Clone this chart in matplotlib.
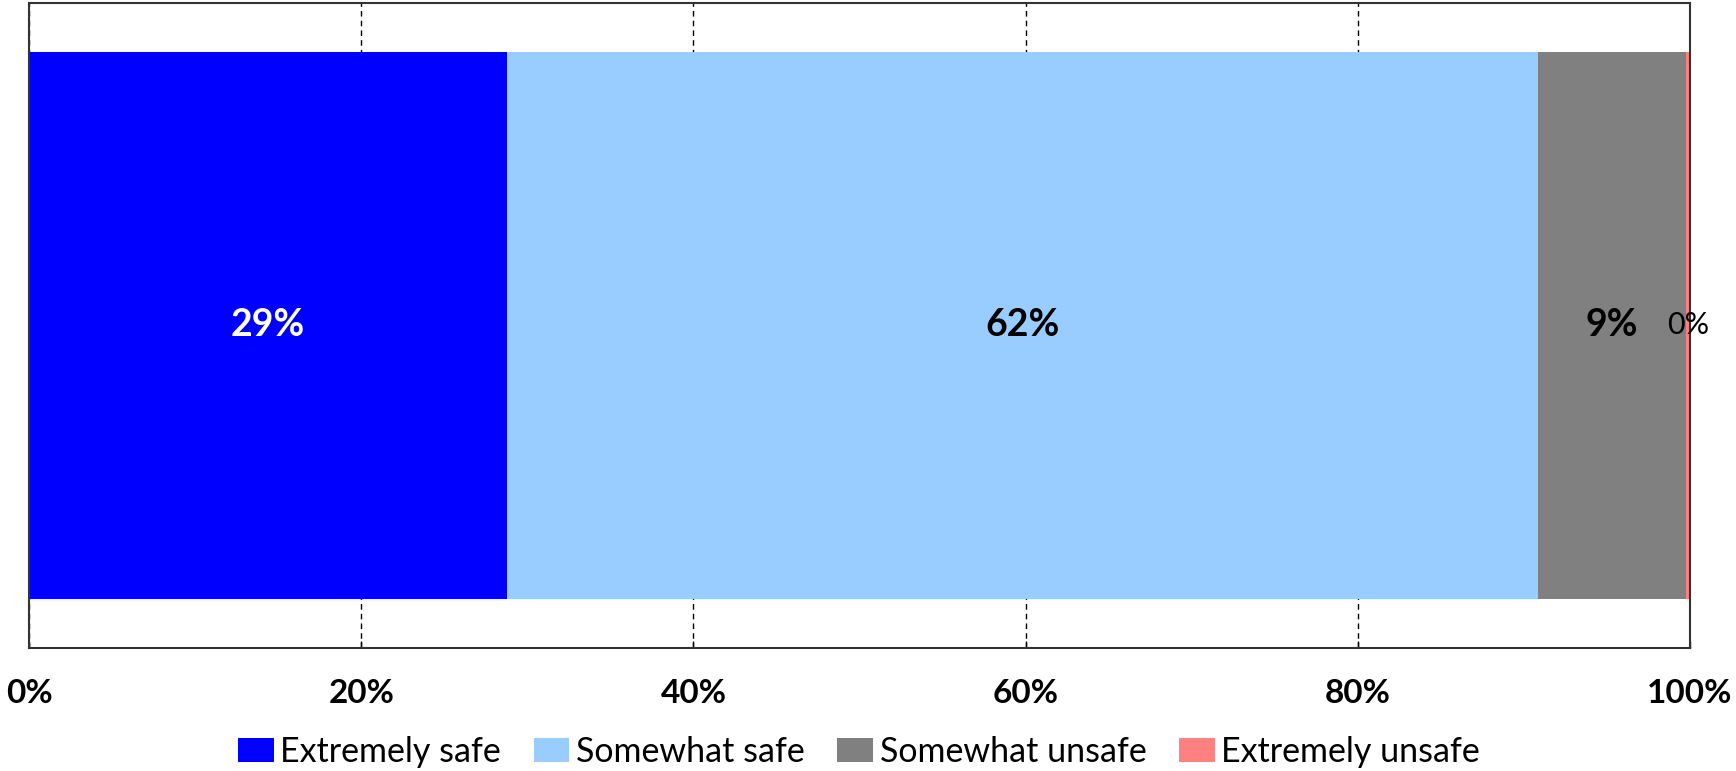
import matplotlib.pyplot as plt
import numpy as np

# Data
categories = ['Extremely safe', 'Somewhat safe', 'Somewhat unsafe', 'Extremely unsafe']
values = [28.8, 62.05, 8.9, 0.25]
labels = ['29%', '62%', '9%', '0%']
colors = ['#0000FF', '#99CCFF', '#808080', '#FF8080']
label_colors = ['white', 'black', 'black', 'black']
ticks = [0, 20, 40, 60, 80, 100]
tick_labels = ['0%', '20%', '40%', '60%', '80%', '100%']

plt.rcParams['font.family'] = ['Lato', 'DejaVu Sans']

fig = plt.figure(figsize=(17.36, 7.71), dpi=100)
ax = fig.add_axes([29 / 1736, 1 - 648 / 771, 1661 / 1736, 645 / 771])

left = 0
for i in range(len(values)):
    ax.barh(0, values[i], left=left, height=0.848, color=colors[i], label=categories[i], zorder=2)
    cx = left + values[i] / 2
    if i == 3:
        ax.text(cx, 0.0, labels[i], ha='center', va='center', fontsize=22, color=label_colors[i], zorder=3)
    else:
        ax.text(cx, 0.0, labels[i], ha='center', va='center', fontsize=27, fontweight='bold',
                color=label_colors[i], zorder=3)
    left += values[i]

ax.set_xlim(0, 100)
ax.set_ylim(-0.5, 0.5)
ax.set_yticks([])
ax.set_xticks(ticks)
ax.set_xticklabels(tick_labels, fontsize=24, fontweight='bold')
ax.tick_params(axis='x', direction='in', length=5, pad=22, width=1)
ax.grid(axis='x', linestyle=(0, (4, 3)), color='black', linewidth=1, zorder=1)
for s in ax.spines.values():
    s.set_linewidth(1.5)
    s.set_color('#333333')

# legend under the tick labels
fig.legend(loc='center', bbox_to_anchor=(859 / 1736, 1 - 752 / 771), ncol=4, frameon=False, fontsize=24.5,
           handlelength=1.05, handleheight=0.7, handletextpad=0.2, columnspacing=0.95,
           borderaxespad=0, borderpad=0)

fig.savefig('out.png', dpi=100)
